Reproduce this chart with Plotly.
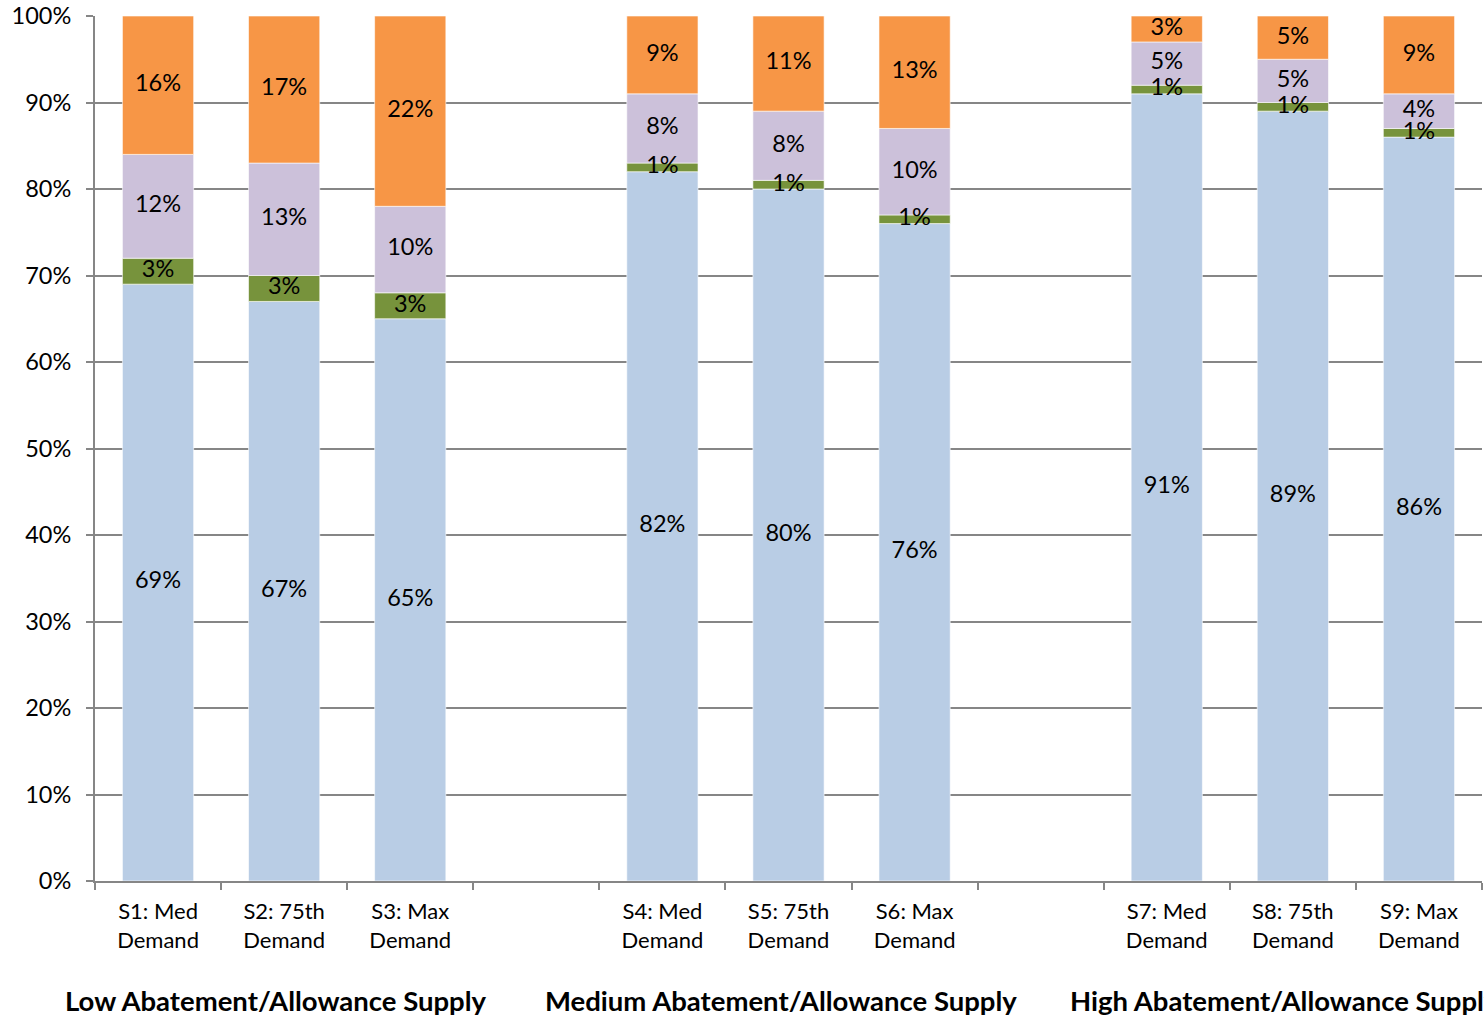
import plotly.graph_objects as go

# Scenario categories (blank spacers separate the three supply groups)
categories = [
    "S1: Med<br>Demand", "S2: 75th<br>Demand", "S3: Max<br>Demand", " ",
    "S4: Med<br>Demand", "S5: 75th<br>Demand", "S6: Max<br>Demand", "  ",
    "S7: Med<br>Demand", "S8: 75th<br>Demand", "S9: Max<br>Demand",
]
scenarios = [c for c in categories if c.strip()]

# Shares (percent) of each component, stacked bottom to top
blue_share = [69, 67, 65, 82, 80, 76, 91, 89, 86]
green_share = [3, 3, 3, 1, 1, 1, 1, 1, 1]
purple_share = [12, 13, 10, 8, 8, 10, 5, 5, 4]
orange_share = [16, 17, 22, 9, 11, 13, 3, 5, 9]

group_labels = [
    "Low Abatement/Allowance Supply",
    "Medium Abatement/Allowance Supply",
    "High Abatement/Allowance Supply",
]
group_centers = ["S2: 75th<br>Demand", "S5: 75th<br>Demand", "S8: 75th<br>Demand"]

series = [
    (blue_share, "#B9CDE5"),
    (green_share, "#77933C"),
    (purple_share, "#CCC1DA"),
    (orange_share, "#F79646"),
]

FONT = "Lato"
fig = go.Figure()

base = [0.0] * len(scenarios)
for values, color in series:
    frac = [v / 100 for v in values]
    fig.add_trace(go.Bar(
        x=scenarios, y=frac, base=base, width=0.565,
        marker=dict(color=color, line=dict(color="white", width=0.6)),
        hoverinfo="skip", showlegend=False,
    ))
    mids = [b + f / 2 for b, f in zip(base, frac)]
    fig.add_trace(go.Scatter(
        x=scenarios, y=mids, mode="text",
        text=[f"{v}%" for v in values],
        textfont=dict(family=FONT, size=23.5, color="black"),
        hoverinfo="skip", showlegend=False, cliponaxis=False,
    ))
    base = [b + f for b, f in zip(base, frac)]

for label, center in zip(group_labels, group_centers):
    fig.add_annotation(
        x=center, xref="x", y=-0.138, yref="paper", yanchor="middle",
        xshift=-8, text=f"<b>{label}</b>", showarrow=False,
        font=dict(family=FONT, size=27.5, color="black"),
    )

fig.update_layout(
    width=1484, height=1018,
    margin=dict(l=95, r=2, t=16, b=137),
    plot_bgcolor="white", paper_bgcolor="white",
    barmode="overlay",
    font=dict(family=FONT, color="black"),
)
fig.update_xaxes(
    type="category", categoryorder="array", categoryarray=categories,
    range=[-0.5, 10.5], tickson="boundaries",
    ticks="outside", ticklen=7, tickcolor="#868686", tickwidth=2,
    showline=True, linecolor="#868686", linewidth=2,
    showgrid=False, ticklabelstandoff=10,
    tickfont=dict(family=FONT, size=22, color="black"),
)
fig.update_yaxes(
    range=[0, 1], tickformat=".0%", dtick=0.1,
    showgrid=True, gridcolor="#868686", gridwidth=2,
    showline=True, linecolor="#868686", linewidth=2,
    ticks="outside", ticklen=7, tickcolor="#868686", tickwidth=2,
    ticklabelstandoff=10,
    tickfont=dict(family=FONT, size=23.5, color="black"),
    zeroline=False,
)

fig.write_html("out.html")
